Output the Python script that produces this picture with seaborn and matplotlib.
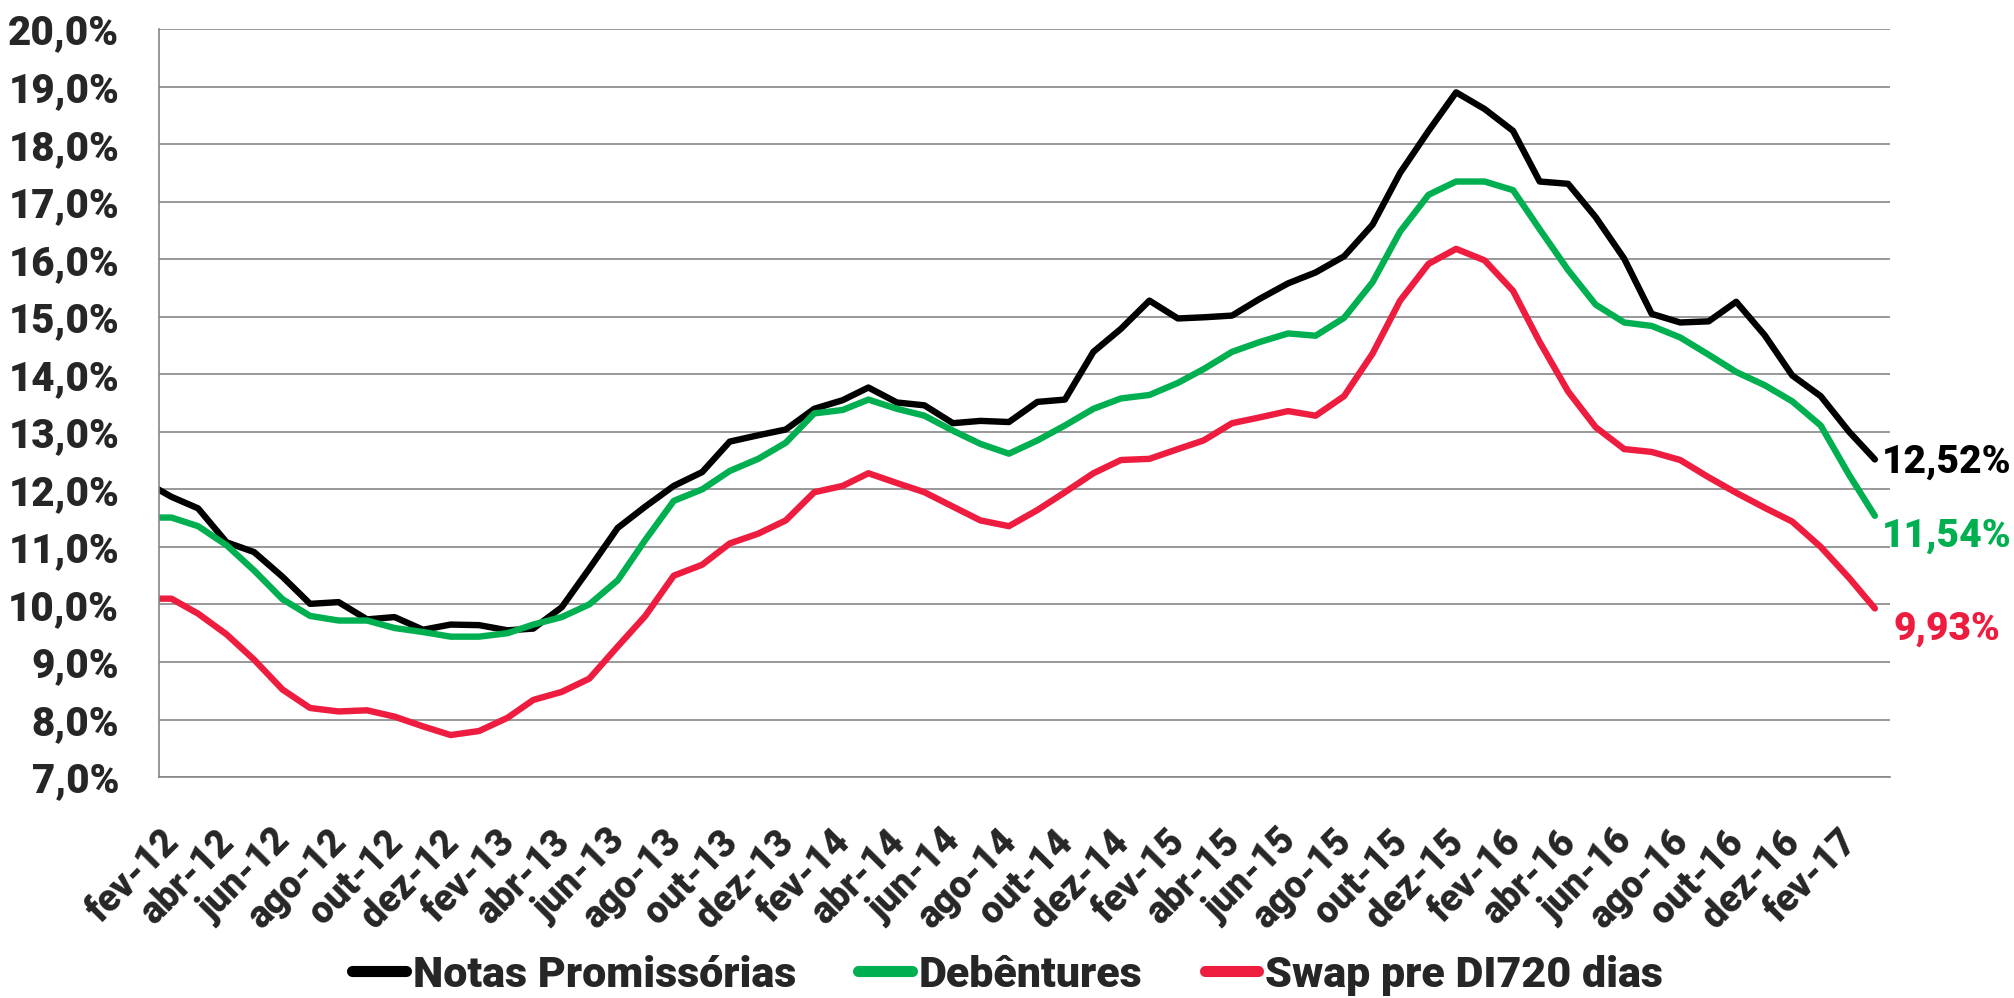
import matplotlib
matplotlib.use("Agg")
import matplotlib.pyplot as plt
import matplotlib.transforms as mtransforms
from matplotlib import font_manager
import numpy as np
import pandas as pd
import seaborn as sns

# Monthly rates (%), jan-12 .. mar-17 (jan-12 sits just left of the axis start)
notas = [12.15, 11.87, 11.67, 11.08, 10.91, 10.48, 10.01, 10.04, 9.74, 9.78, 9.56,
         9.65, 9.64, 9.55, 9.58, 9.95, 10.62, 11.33, 11.70, 12.06, 12.30, 12.83,
         12.94, 13.04, 13.40, 13.55, 13.77, 13.51, 13.46, 13.15, 13.19, 13.17,
         13.52, 13.56, 14.39, 14.79, 15.28, 14.97, 14.99, 15.02, 15.31, 15.58,
         15.77, 16.05, 16.60, 17.50, 18.23, 18.90, 18.61, 18.23, 17.35, 17.31,
         16.73, 16.01, 15.05, 14.90, 14.92, 15.26, 14.68, 13.98, 13.62, 13.00, 12.52]
debentures = [11.51, 11.51, 11.36, 11.03, 10.59, 10.09, 9.80, 9.72, 9.72, 9.59, 9.52,
              9.44, 9.44, 9.50, 9.65, 9.78, 10.00, 10.42, 11.12, 11.80, 12.00, 12.32,
              12.53, 12.81, 13.32, 13.38, 13.56, 13.40, 13.28, 13.02, 12.79, 12.62,
              12.85, 13.11, 13.40, 13.58, 13.64, 13.85, 14.09, 14.39, 14.56, 14.71,
              14.67, 14.98, 15.60, 16.48, 17.12, 17.35, 17.35, 17.20, 16.52, 15.81,
              15.21, 14.90, 14.84, 14.64, 14.34, 14.04, 13.81, 13.53, 13.11, 12.25, 11.54]
swap = [10.10, 10.10, 9.84, 9.48, 9.04, 8.52, 8.20, 8.14, 8.16, 8.05, 7.88,
        7.73, 7.80, 8.03, 8.34, 8.48, 8.71, 9.27, 9.80, 10.50, 10.69, 11.06,
        11.23, 11.46, 11.95, 12.06, 12.28, 12.11, 11.95, 11.70, 11.46, 11.36,
        11.64, 11.95, 12.28, 12.51, 12.53, 12.70, 12.85, 13.15, 13.25, 13.36,
        13.28, 13.62, 14.36, 15.28, 15.92, 16.18, 15.98, 15.45, 14.56, 13.70,
        13.08, 12.70, 12.65, 12.51, 12.21, 11.94, 11.68, 11.44, 11.00, 10.46, 9.93]

series_names = ["Notas Promissórias", "Debêntures", "Swap pre DI720 dias"]
colors = ["#000000", "#00B050", "#EE1C3F"]

tick_labels = ["fev-12", "abr-12", "jun-12", "ago-12", "out-12", "dez-12",
               "fev-13", "abr-13", "jun-13", "ago-13", "out-13", "dez-13",
               "fev-14", "abr-14", "jun-14", "ago-14", "out-14", "dez-14",
               "fev-15", "abr-15", "jun-15", "ago-15", "out-15", "dez-15",
               "fev-16", "abr-16", "jun-16", "ago-16", "out-16", "dez-16",
               "fev-17", ""]

# mid-month dates for each observation
dates = pd.date_range("2012-01-01", periods=len(notas), freq="MS") + pd.Timedelta(days=14)
df = pd.DataFrame({"data": dates, series_names[0]: notas,
                   series_names[1]: debentures, series_names[2]: swap})
long = df.melt(id_vars="data", var_name="serie", value_name="taxa")

sns.set_theme(style="white")
names = {f.name for f in font_manager.fontManager.ttflist}
main_font = "Liberation Sans Narrow" if "Liberation Sans Narrow" in names else "Roboto"
plt.rcParams["font.family"] = [main_font, "DejaVu Sans"]
heavy = 900

grey = "#868686"
fig = plt.figure(figsize=(20.15, 9.98), dpi=100)
ax = fig.add_axes([0.0787, 0.2214, 0.8595, 0.7495])

sns.lineplot(data=long, x="data", y="taxa", hue="serie", hue_order=series_names,
             palette=colors, linewidth=4.6, ax=ax, solid_capstyle="round")

ax.set_xlim(pd.Timestamp("2012-02-01"), pd.Timestamp("2017-04-01"))
ax.set_ylim(7, 20)
ax.set_yticks(np.arange(7, 21, 1))
ax.set_yticklabels([f"{v:.1f}%".replace(".", ",") for v in np.arange(7, 21, 1)])
tick_dates = pd.date_range("2012-02-01", "2017-04-01", freq="2MS")
ax.set_xticks(tick_dates)
ax.set_xticklabels(tick_labels, rotation=45, ha="right", va="top",
                   rotation_mode="anchor")
ax.set_xlabel("")
ax.set_ylabel("")

ax.grid(axis="y", color=grey, linewidth=1.2)
ax.grid(axis="x", visible=False)
for side in ["top", "right"]:
    ax.spines[side].set_visible(False)
for side in ["left", "bottom"]:
    ax.spines[side].set_color(grey)
    ax.spines[side].set_linewidth(1.2)
ax.tick_params(axis="y", direction="out", length=9.4, width=1.2, color=grey,
               pad=19, labelsize=29)
ax.tick_params(axis="x", direction="out", length=9.4, width=1.2, color=grey,
               pad=24, labelsize=27)
offset = mtransforms.ScaledTranslation(2 / 100, 0, fig.dpi_scale_trans)
for lab in ax.get_xticklabels():
    lab.set_transform(lab.get_transform() + offset)
    lab.set_fontweight(heavy)
for lab in ax.get_yticklabels():
    lab.set_fontweight(heavy)

# end-of-series value labels
label_dy = [-2, -15, -15]
for vals, col, dy in zip([notas, debentures, swap], colors, label_dy):
    ax.annotate(f"{vals[-1]:.2f}%".replace(".", ","), xy=(dates[-1], vals[-1]),
                xytext=(52, dy), textcoords="offset points", ha="center",
                va="center", color=col, fontsize=28, fontweight=heavy,
                annotation_clip=False)

handles, labels = ax.get_legend_handles_labels()
ax.get_legend().remove()
leg = fig.legend(handles, labels, loc="center", bbox_to_anchor=(0.5, 0.023),
                 ncol=3, frameon=False, handlelength=1.25, handletextpad=0.15,
                 columnspacing=1.45, prop={"size": 31, "weight": heavy})
for h in leg.get_lines():
    h.set_linewidth(8)

fig.savefig("out.png", dpi=100)
